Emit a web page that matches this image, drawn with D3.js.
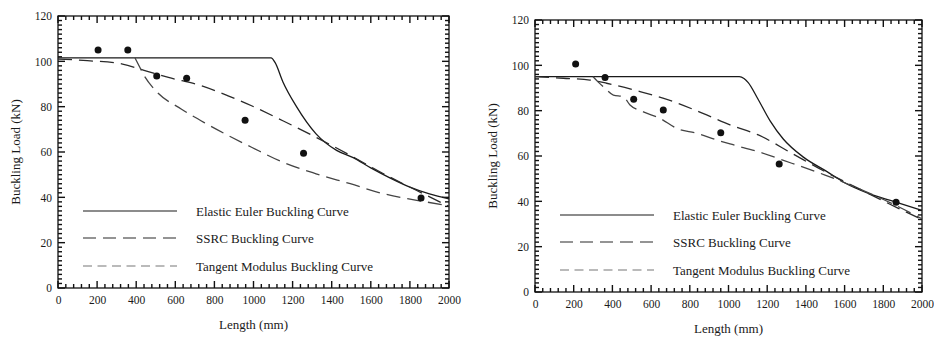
<!DOCTYPE html>
<html>
<head>
<meta charset="utf-8">
<script src="https://cdn.jsdelivr.net/npm/d3@7/dist/d3.min.js"></script>
<style>
  body { margin: 0; background: #fff; }
  text { font-family: "Liberation Serif", "Times New Roman", serif; fill: #1a1a1a; }
</style>
</head>
<body>
<div id="chart"></div>
<script>
// [length (mm), load (kN)]
var leftEuler = [[0,101.5],[1090,101.5],[1110,99.5],[1150,91],[1220,80],[1320,68],[1425,60.7],
                 [1510,57.5],[1600,53],[1700,48.5],[1800,44.5],[1900,41.5],[2000,39.3]];
var leftSSRC = [[0,101],[150,100.3],[330,98.8],[440,96],[565,92.9],[735,89.2],[870,84.8],[990,80.4],
                [1150,73.8],[1320,66.5],[1495,58.5],[1665,50.4],[1835,43],[2000,36]];
var leftTangent = [[394,101.5],[419,97.3],[436,94.4],[500,87],[630,79],[760,72.4],[888,66.5],[990,62.1],
                   [1150,55.5],[1320,50.4],[1495,46],[1665,41.6],[1835,38.7],[2000,36.3]];
var leftTests = [[205,105],[357,105],[505,93.5],[658,92.5],[957,74],[1256,59.5],[1857,39.7]];

var rightEuler = [[0,95],[1056,95],[1080,94.2],[1102,92.4],[1150,85.5],[1215,75.5],[1283,67.5],
                  [1387,59.5],[1507,53.2],[1600,48.2],[1723,43.5],[1861,39.8],[2000,36]];
var rightSSRC = [[0,95],[146,94.3],[284,93.5],[370,92.1],[543,88.4],[715,84],[887,78.1],[1008,73.7],
                 [1154,69.3],[1327,61.2],[1499,53.1],[1671,45.7],[1878,36.9],[2000,32]];
var rightTangent = [[300,95],[327,92.6],[362,89.9],[405,86.9],[456,86.2],[491,82.5],[560,79.5],[646,76.6],
                    [732,72.2],[836,70],[939,67.1],[1008,65.3],[1154,61.9],[1327,56.8],[1499,51.6],
                    [1671,45.7],[1843,39.1],[2000,32.3]];
var rightTests = [[210,100.6],[362,94.6],[510,85],[663,80.3],[960,70.3],[1262,56.5],[1866,39.6]];

var legendNames = ["Elastic Euler Buckling Curve", "SSRC Buckling Curve", "Tangent Modulus Buckling Curve"];
var xTickLabels = [0,200,400,600,800,1000,1200,1400,1600,1800,2000];
var yTickLabels = [0,20,40,60,80,100,120];

var svg = d3.select("#chart").append("svg")
    .attr("width", 934)
    .attr("height", 337);

// line looks, plot and legend
var styles = [
  {stroke: "#1a1a1a", width: 1.3, dash: null,   legendDash: null},
  {stroke: "#2a2a2a", width: 1.3, dash: "14,7", legendDash: "13,7"},
  {stroke: "#444",    width: 1.3, dash: "14,7", legendDash: "9,5.5"}
];

drawPanel({left: 58, top: 16, width: 391, height: 272},
          [leftEuler, leftSSRC, leftTangent], leftTests);
drawPanel({left: 535, top: 20, width: 387, height: 272},
          [rightEuler, rightSSRC, rightTangent], rightTests);

function drawPanel(box, curves, tests) {
  var w = box.width, h = box.height;

  var x = d3.scaleLinear().domain([0, 2000]).range([0, w]);
  var y = d3.scaleLinear().domain([0, 120]).range([h, 0]);

  var g = svg.append("g")
      .attr("transform", "translate(" + box.left + "," + box.top + ")");

  var xMinor = d3.range(0, 2001, 40),
      yMinor = d3.range(0, 121, 2);
  function xLen(d) { return d % 200 == 0 ? 7 : 4; }
  function yLen(d) { return d % 20 == 0 ? 7 : 4; }

  // inward ticks as thin filled rects, all four sides
  var tk = g.append("g").attr("fill", "#111");
  tk.selectAll(".tb").data(xMinor).enter().append("rect")
      .attr("x", function(d) { return x(d) - 0.7; })
      .attr("y", function(d) { return h - xLen(d); })
      .attr("width", 1.4)
      .attr("height", xLen);
  tk.selectAll(".tt").data(xMinor).enter().append("rect")
      .attr("x", function(d) { return x(d) - 0.7; })
      .attr("y", 0)
      .attr("width", 1.4)
      .attr("height", xLen);
  tk.selectAll(".tl").data(yMinor).enter().append("rect")
      .attr("x", 0)
      .attr("y", function(d) { return y(d) - 0.7; })
      .attr("width", yLen)
      .attr("height", 1.4);
  tk.selectAll(".tr").data(yMinor).enter().append("rect")
      .attr("x", function(d) { return w - yLen(d); })
      .attr("y", function(d) { return y(d) - 0.7; })
      .attr("width", yLen)
      .attr("height", 1.4);

  // frame
  g.append("rect")
      .attr("width", w).attr("height", h)
      .attr("fill", "none").attr("stroke", "#111").attr("stroke-width", 1.3);

  // tick labels
  g.append("g").attr("class", "ax").attr("transform", "translate(0," + h + ")")
      .call(d3.axisBottom(x).tickValues(xTickLabels).tickSize(0).tickPadding(8).tickFormat(d3.format("d")));
  g.append("g").attr("class", "ax")
      .call(d3.axisLeft(y).tickValues(yTickLabels).tickSize(0).tickPadding(6).tickFormat(d3.format("d")));
  g.selectAll(".ax .domain").remove();
  g.selectAll(".ax .tick text")
      .attr("fill", "#1a1a1a")
      .style("font-family", "'Liberation Serif', serif")
      .style("font-size", "11.5px");

  var line = d3.line()
      .x(function(d) { return x(d[0]); })
      .y(function(d) { return y(d[1]); })
      .curve(d3.curveMonotoneX);

  curves.forEach(function(c, i) {
    g.append("path")
        .datum(c)
        .attr("d", line)
        .attr("fill", "none")
        .attr("stroke", styles[i].stroke)
        .attr("stroke-width", styles[i].width)
        .attr("stroke-dasharray", styles[i].dash);
  });

  g.selectAll(".test").data(tests)
    .enter().append("circle")
      .attr("class", "test")
      .attr("cx", function(d) { return x(d[0]); })
      .attr("cy", function(d) { return y(d[1]); })
      .attr("r", 3.5)
      .attr("fill", "#111");

  // legend inside the plot
  var rows = [195, 222, 250];
  legendNames.forEach(function(name, i) {
    g.append("line")
        .attr("x1", 25).attr("x2", 119)
        .attr("y1", rows[i]).attr("y2", rows[i])
        .attr("stroke", i == 2 ? "#777" : styles[i].stroke)
        .attr("stroke-width", 1.1)
        .attr("stroke-dasharray", styles[i].legendDash);
    g.append("text")
        .attr("x", 138).attr("y", rows[i] + 4.5)
        .style("font-size", "13px")
        .text(name);
  });

  // axis titles
  g.append("text")
      .attr("x", w / 2).attr("y", h + 41)
      .attr("text-anchor", "middle")
      .style("font-size", "13px")
      .text("Length (mm)");
  g.append("text")
      .attr("transform", "translate(-38," + (h / 2) + ") rotate(-90)")
      .attr("text-anchor", "middle")
      .style("font-size", "13px")
      .text("Buckling Load (kN)");
}
</script>
</body>
</html>
